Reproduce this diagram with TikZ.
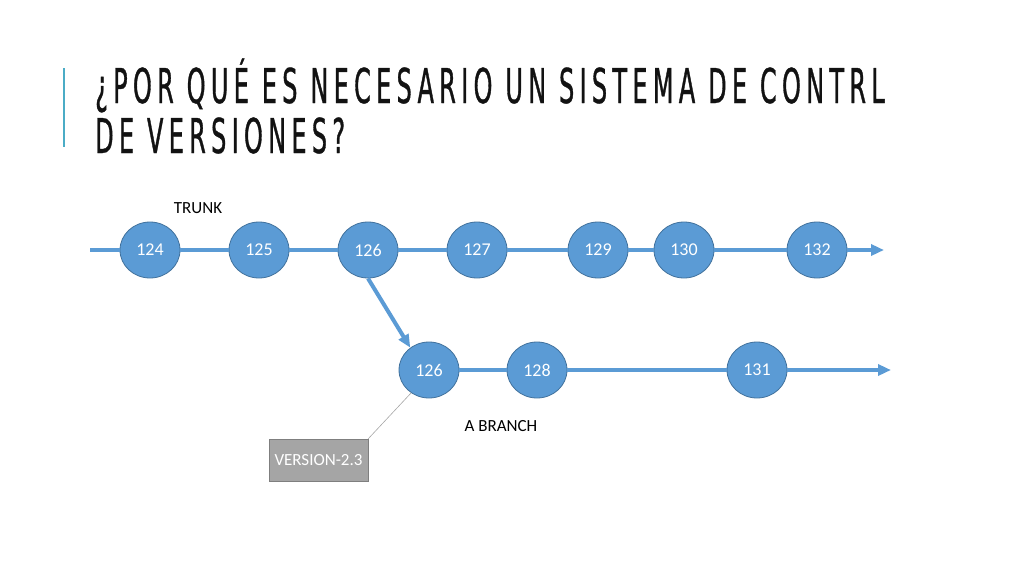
\documentclass[tikz,border=0pt]{standalone}
\usepackage{fontspec}
\setmainfont{Carlito}
\newfontfamily\titlefont[FakeStretch=0.5,FakeBold=0.7,LetterSpace=11]{DejaVu Sans}
\usetikzlibrary{arrows.meta}
\usetikzlibrary{shapes.geometric}
\definecolor{nodeblue}{HTML}{5B9BD5}
\definecolor{nodeedge}{HTML}{41719C}
\definecolor{barblue}{HTML}{4BACC6}
\definecolor{tagfill}{HTML}{A5A5A5}
\definecolor{tagedge}{HTML}{7F7F7F}

\begin{document}
\begin{tikzpicture}[x=1pt, y=-1pt,
    commit/.style={ellipse, draw=nodeedge, fill=nodeblue, line width=0.8pt, inner sep=0pt,
      minimum width=60pt, minimum height=56pt, text=white, font=\fontsize{18}{18}\selectfont},
    line/.style={nodeblue, line width=4pt},
    arr/.style={line, -{Triangle[length=13pt, width=11pt]}},
    tag/.style={rectangle, draw=tagedge, fill=tagfill, minimum width=99pt, minimum height=42pt,
      inner sep=0pt, text=white, font=\fontsize{17}{17}\selectfont},
    lbl/.style={font=\fontsize{17}{17}\selectfont}]
      \useasboundingbox (0, 0) rectangle (1024, 576);

      % title
      \draw[barblue, line width=2pt] (64, 68) -- (64, 147);
      \node[anchor=base west, inner sep=0pt, font=\titlefont\fontsize{48}{48}\selectfont, text=black!93] (title1) at (95, 103) {¿POR QUÉ ES NECESARIO UN SISTEMA DE CONTRL};
      \node[anchor=base west, inner sep=0pt, font=\titlefont\fontsize{48}{48}\selectfont, text=black!93] (title2) at (95, 153) {DE VERSIONES?};

      % trunk
      \coordinate (tstart) at (90, 250);
      \coordinate (tend) at (884, 250);
      \node[commit] (t124) at (150, 250) {124};
      \node[commit] (t125) at (259, 250) {125};
      \node[commit] (t126) at (368, 250) {126};
      \node[commit] (t127) at (477, 250) {127};
      \node[commit] (t129) at (598, 250) {129};
      \node[commit] (t130) at (684, 250) {130};
      \node[commit] (t132) at (817, 250) {132};
      \node[lbl] (trunk) at (198, 208) {TRUNK};

      \draw[line] (tstart) -- (t124) -- (t125) -- (t126) -- (t127) -- (t129) -- (t130) -- (t132);
      \draw[arr] (t132) -- (tend);

      % branch
      \coordinate (bend) at (891, 370);
      \node[commit] (b126) at (429, 370) {126};
      \node[commit] (b128) at (537, 370) {128};
      \node[commit] (b131) at (757, 370) {131};
      \node[lbl] (branch) at (501, 426) {A BRANCH};

      \draw[line] (b126) -- (b128) -- (b131);
      \draw[arr] (b131) -- (bend);
      \draw[arr] (t126.south) -- (b126.130);

      % tag
      \node[tag] (ver) at (318.5, 460) {VERSION-2.3};
      \draw[gray!70, line width=0.6pt] (ver.north east) -- (b126.232);
    \end{tikzpicture}
\end{document}
